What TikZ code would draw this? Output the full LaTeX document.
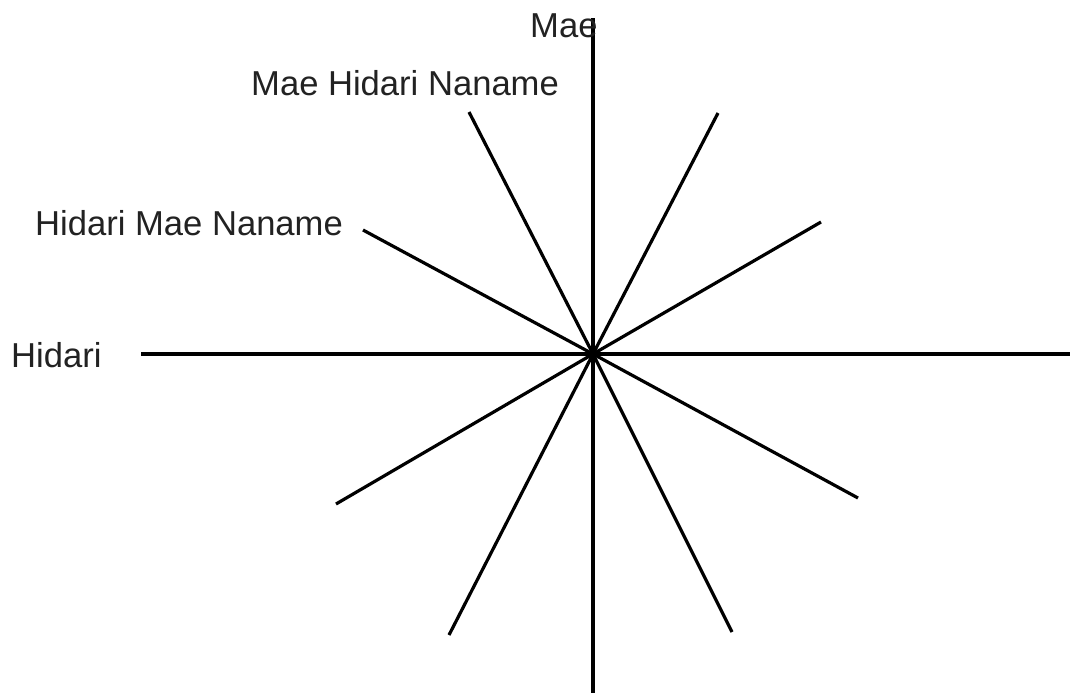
\documentclass[tikz,border=0pt]{standalone}
\usepackage{fontspec}
\setmainfont{Liberation Sans}
\definecolor{txt}{HTML}{222222}
\tikzset{
  ray/.style={line width=3.2pt, draw=black, line cap=butt},
  lbl/.style={anchor=base west, inner sep=0pt, text=txt, font=\fontsize{34.6}{40}\selectfont}
}
\begin{document}
\begin{tikzpicture}[x=1pt, y=-1pt]
\useasboundingbox (0,0) rectangle (1073,697);
\coordinate (O) at (593,354);
\coordinate (N) at (593,18);
\coordinate (S) at (593,693);
\coordinate (W) at (141,354);
\coordinate (E) at (1070,354);
\coordinate (A1) at (469,112);
\coordinate (A2) at (732,632);
\coordinate (B1) at (363,230);
\coordinate (B2) at (858,498);
\coordinate (C1) at (718,113);
\coordinate (C2) at (449,635);
\coordinate (D1) at (821,222);
\coordinate (D2) at (336,504);
\draw[ray] (N) -- (O) -- (S);
\draw[ray] (W) -- (O) -- (E);
\draw[ray] (A1) -- (O) -- (A2);
\draw[ray] (B1) -- (O) -- (B2);
\draw[ray] (C1) -- (O) -- (C2);
\draw[ray] (D1) -- (O) -- (D2);
\node[lbl] (mae) at (530,37) {Mae};
\node[lbl] (mhn) at (251,95) {Mae Hidari Naname};
\node[lbl] (hmn) at (35,235) {Hidari Mae Naname};
\node[lbl] (hid) at (11,367) {Hidari};
\end{tikzpicture}
\end{document}
